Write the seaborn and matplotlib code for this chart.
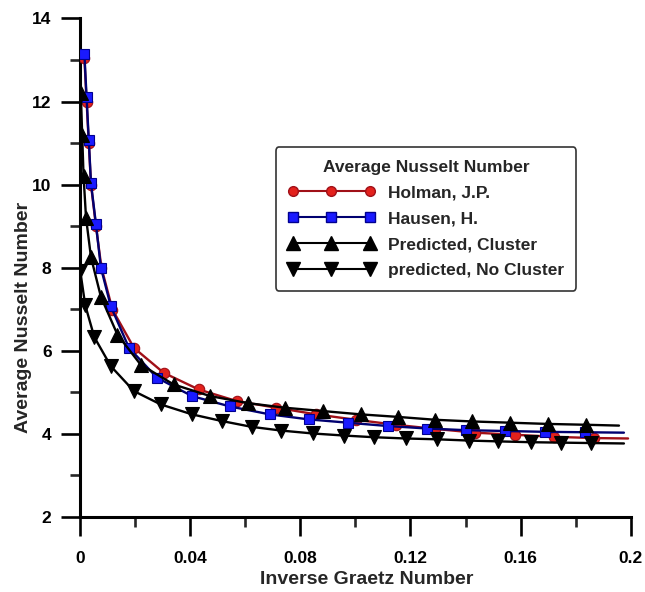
import matplotlib
matplotlib.use("Agg")
import matplotlib.pyplot as plt
from matplotlib.lines import Line2D
from matplotlib.ticker import MultipleLocator, FuncFormatter
import seaborn as sns
import pandas as pd

# Average Nusselt number vs inverse Graetz number (last point of each list ends the line, no marker)
holman_x = [0.0016, 0.0024, 0.0032, 0.0040, 0.0058, 0.0078, 0.0118, 0.0196, 0.0304, 0.0431,
            0.0569, 0.0713, 0.0858, 0.1002, 0.1146, 0.1290, 0.1434, 0.1578, 0.1722, 0.1866, 0.1990]
holman_y = [13.05, 12.0, 11.0, 10.0, 9.0, 8.0, 6.99, 6.07, 5.47, 5.07,
            4.79, 4.63, 4.47, 4.34, 4.22, 4.12, 4.03, 3.98, 3.93, 3.90, 3.89]

hausen_x = [0.0016, 0.0024, 0.0032, 0.0040, 0.0058, 0.0076, 0.0112, 0.0178, 0.0280, 0.0407,
            0.0545, 0.0689, 0.0830, 0.0972, 0.1117, 0.1260, 0.1400, 0.1545, 0.1688, 0.1832, 0.1975]
hausen_y = [13.15, 12.1, 11.07, 10.03, 9.05, 8.0, 7.07, 6.07, 5.35, 4.91,
            4.66, 4.47, 4.35, 4.27, 4.19, 4.13, 4.09, 4.07, 4.05, 4.04, 4.03]

cluster_x = [0.0003, 0.0008, 0.0013, 0.0022, 0.0040, 0.0076, 0.0136, 0.0220, 0.0340, 0.0473,
             0.0611, 0.0744, 0.0882, 0.1020, 0.1153, 0.1290, 0.1423, 0.1561, 0.1699, 0.1838, 0.1957]
cluster_y = [12.2, 11.2, 10.2, 9.2, 8.25, 7.3, 6.39, 5.67, 5.19, 4.91,
             4.74, 4.63, 4.55, 4.47, 4.41, 4.34, 4.30, 4.27, 4.24, 4.22, 4.20]

nocluster_x = [0.0001, 0.0019, 0.0052, 0.0112, 0.0196, 0.0293, 0.0407, 0.0515, 0.0623, 0.0731,
               0.0846, 0.0960, 0.1068, 0.1182, 0.1297, 0.1411, 0.1519, 0.1639, 0.1747, 0.1856, 0.1975]
nocluster_y = [7.92, 7.1, 6.33, 5.63, 5.03, 4.71, 4.47, 4.31, 4.17, 4.08,
               4.01, 3.96, 3.92, 3.89, 3.87, 3.84, 3.82, 3.80, 3.79, 3.78, 3.77]

labels = ["Holman, J.P.", "Hausen, H.", "Predicted, Cluster", "predicted, No Cluster"]

sns.set_style("white")
plt.rcParams["font.family"] = ["Liberation Sans", "DejaVu Sans"]
plt.rcParams["font.weight"] = "bold"

fig = plt.figure(figsize=(6.45, 5.92), dpi=100)
ax = fig.add_axes([0.124, 0.1267, 0.854, 0.8421])

styles = [
    dict(color="#a01018", marker="o", mfc="#e3211c", mec="#a01018", ms=7.5),
    dict(color="#000070", marker="s", mfc="#1a1aff", mec="#000090", ms=7.5),
    dict(color="black", marker="^", mfc="black", mec="black", ms=10),
    dict(color="black", marker="v", mfc="black", mec="black", ms=10),
]
series = [(holman_x, holman_y), (hausen_x, hausen_y), (cluster_x, cluster_y), (nocluster_x, nocluster_y)]

# black curves first, then Holman, then Hausen on top
for idx in [3, 2, 0, 1]:
    xs, ys = series[idx]
    df = pd.DataFrame({"x": xs, "y": ys})
    st = styles[idx]
    sns.lineplot(data=df, x="x", y="y", ax=ax, sort=False, estimator=None,
                 color=st["color"], lw=1.7, marker=st["marker"], markersize=st["ms"],
                 markerfacecolor=st["mfc"], markeredgecolor=st["mec"], markeredgewidth=0.8,
                 markevery=slice(0, len(xs) - 1), zorder=3 + idx)

ax.set_xlim(0, 0.2)
ax.set_ylim(2, 14)
ax.xaxis.set_major_locator(MultipleLocator(0.04))
ax.xaxis.set_minor_locator(MultipleLocator(0.02))
ax.yaxis.set_major_locator(MultipleLocator(2))
ax.yaxis.set_minor_locator(MultipleLocator(1))
ax.xaxis.set_major_formatter(FuncFormatter(lambda v, p: "%g" % round(v, 4)))

for side in ["top", "right"]:
    ax.spines[side].set_visible(False)
for side in ["left", "bottom"]:
    ax.spines[side].set_linewidth(2.2)
    ax.spines[side].set_color("black")

ax.tick_params(which="major", direction="out", length=13.5, width=1.9, pad=7,
               left=True, bottom=True, colors="black")
ax.tick_params(which="minor", direction="out", length=7.5, width=1.9, left=True, bottom=True)
ax.tick_params(axis="x", which="major", labelsize=12.5, pad=11)
ax.tick_params(axis="y", which="major", labelsize=12.5)
for lab in ax.get_xticklabels() + ax.get_yticklabels():
    lab.set_fontweight("bold")

ax.set_xlabel("Inverse Graetz Number", fontsize=14, fontweight="bold")
ax.set_ylabel("Average Nusselt Number", fontsize=14, fontweight="bold")
ax.xaxis.set_label_coords(0.52, -0.108)
ax.yaxis.set_label_coords(-0.088, 0.401)

handles = [Line2D([0], [0], color=st["color"], lw=1.5, marker=st["marker"], markersize=st["ms"] - 0.5,
                  markerfacecolor=st["mfc"], markeredgecolor=st["mec"]) for st in styles]
leg = ax.legend(handles, labels, title="Average Nusselt Number", numpoints=3,
                loc="upper left", bbox_to_anchor=(0.355, 0.742), borderaxespad=0,
                frameon=True, fancybox=True, edgecolor="black",
                handlelength=5.0, handletextpad=0.75, labelspacing=0.62,
                borderpad=0.72, prop={"size": 12.5, "weight": "bold"},
                title_fontproperties={"size": 12.5, "weight": "bold"})
leg.get_frame().set_linewidth(1.2)

fig.savefig("out.png", dpi=100)
